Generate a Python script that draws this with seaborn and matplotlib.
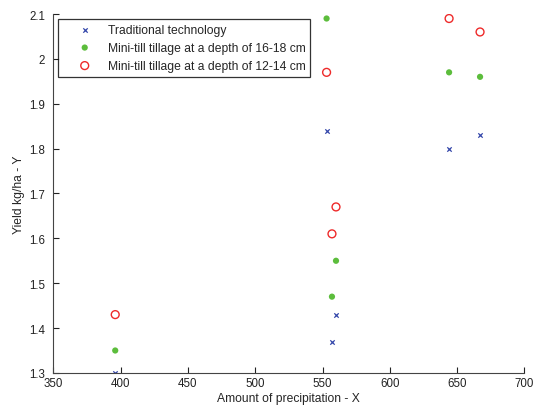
import matplotlib
matplotlib.use("Agg")
import matplotlib.pyplot as plt
import seaborn as sns
import pandas as pd

precip = [396, 553, 557, 560, 644, 667]
traditional = [1.30, 1.84, 1.37, 1.43, 1.80, 1.83]
minitill_16_18 = [1.35, 2.09, 1.47, 1.55, 1.97, 1.96]
minitill_12_14 = [1.43, 1.97, 1.61, 1.67, 2.09, 2.06]
labels = ["Traditional technology",
          "Mini-till tillage at a depth of 16-18 cm",
          "Mini-till tillage at a depth of 12-14 cm"]
x_ticks = [350, 400, 450, 500, 550, 600, 650, 700]
y_ticks = [1.3, 1.4, 1.5, 1.6, 1.7, 1.8, 1.9, 2.0, 2.1]

sns.set_style("ticks")
plt.rcParams['font.family'] = ['Liberation Sans', 'DejaVu Sans']

df = pd.DataFrame({
    "x": precip * 3,
    "y": traditional + minitill_16_18 + minitill_12_14,
    "s": [labels[0]] * 6 + [labels[1]] * 6 + [labels[2]] * 6,
})

fig = plt.figure(figsize=(5.33, 4.06), dpi=100)
ax = fig.add_axes([0.100, 0.079, 0.884, 0.884])

styles = [
    dict(marker="x", color="#3346aa", s=10, linewidth=0.9),
    dict(marker="o", color="#5cbd3c", s=20, edgecolor="none"),
    dict(marker="o", facecolor="none", edgecolor="#ee2a2a", s=32, linewidth=1.0),
]
for lab, st in zip(labels, styles):
    sub = df[df["s"] == lab]
    sns.scatterplot(data=sub, x="x", y="y", ax=ax, label=lab, **st)

ax.set_xlim(350, 700)
ax.set_ylim(1.3, 2.1)
ax.set_xticks(x_ticks)
ax.set_yticks(y_ticks)
ax.set_yticklabels([f"{v:g}" for v in y_ticks])
ax.tick_params(direction="in", length=4, labelsize=8.3, width=0.8, colors="#222222")
ax.tick_params(axis="y", pad=6)
ax.tick_params(axis="x", pad=3)
ax.set_xlabel("Amount of precipitation - X", fontsize=8.7, labelpad=2)
ax.set_ylabel("Yield kg/ha - Y", fontsize=8.7, labelpad=2.5)
sns.despine(ax=ax)
for sp in ["left", "bottom"]:
    ax.spines[sp].set_color("#444444")
    ax.spines[sp].set_linewidth(0.8)

leg = ax.legend(loc="upper left", bbox_to_anchor=(0.0, 1.0), fontsize=8.7,
                frameon=True, fancybox=False, edgecolor="black",
                borderpad=0.4, handlelength=3.6, handletextpad=0.1,
                labelspacing=0.5, borderaxespad=0.4)
leg.get_frame().set_linewidth(0.9)

fig.savefig("out.png", dpi=100)
